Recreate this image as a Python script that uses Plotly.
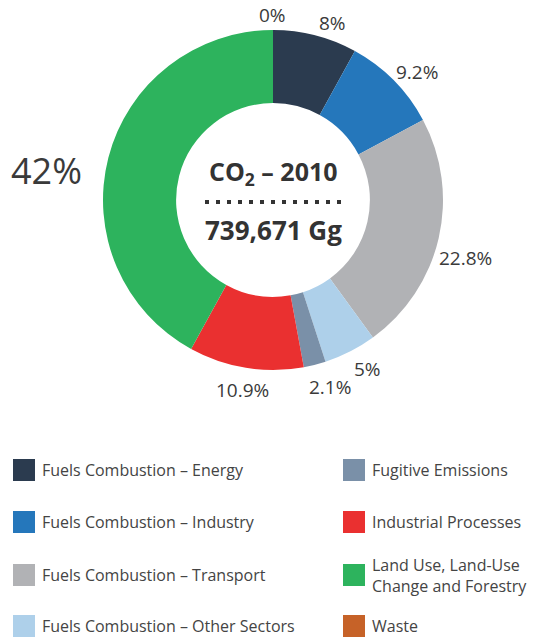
import math
import plotly.graph_objects as go

# sectors in clockwise order from 12 o'clock
sectors = [
    "Fuels Combustion – Energy",
    "Fuels Combustion – Industry",
    "Fuels Combustion – Transport",
    "Fuels Combustion – Other Sectors",
    "Fugitive Emissions",
    "Industrial Processes",
    "Land Use, Land-Use<br>Change and Forestry",
    "Waste",
]
shares = [8, 9.2, 22.8, 5, 2.1, 10.9, 42, 0]
labels = ["8%", "9.2%", "22.8%", "5%", "2.1%", "10.9%", "42%", "0%"]
colors = ["#2b3b4f", "#2577bb", "#b1b2b5", "#aed0ea",
          "#7a90a8", "#ea3030", "#2db35d", "#c66228"]

# legend layout: two columns of four
legend_cols = [[0, 1, 2, 3], [4, 5, 6, 7]]

# label placement tweaks (style only): angle nudge in degrees, distance from centre
label_nudge = [4, 3, 3.7, -2.3, -2.8, 0, -7, 0]
label_dist = [187, 193, 201, 194, 196, 192, 228, 185]

# page body has an 8px margin, so the figure is a bit smaller than the window
OFF = 8
W, H = 553 - OFF, 637 - OFF
cx, cy, R = 273, 200, 170


def px(x, y):
    # window pixel -> paper coords
    return (x - OFF) / W, 1 - (y - OFF) / H


fig = go.Figure(go.Pie(
    values=shares,
    labels=sectors,
    marker=dict(colors=colors, line=dict(width=0)),
    hole=0.57,
    sort=False,
    direction="clockwise",
    rotation=0,
    textinfo="none",
    hoverinfo="label+percent",
    showlegend=False,
    domain=dict(x=[px(cx - R, 0)[0], px(cx + R, 0)[0]],
                y=[px(0, cy + R)[1], px(0, cy - R)[1]]),
))

annotations = []
# percentage labels around the ring
cum = 0
for val, lab, nudge, r in zip(shares, labels, label_nudge, label_dist):
    mid = (cum + val / 2) / sum(shares) * 360 + nudge
    cum += val
    big = val > 30
    a = math.radians(mid)
    x, y = px(cx + r * math.sin(a), cy - r * math.cos(a))
    annotations.append(dict(
        x=x, y=y, xref="paper", yref="paper", text=lab, showarrow=False,
        xanchor="center", yanchor="middle",
        font=dict(family="Open Sans", size=36 if big else 19, color="#3a3a3a"),
    ))

# center title
annotations.append(dict(
    x=px(cx, 0)[0], y=px(0, 152)[1], xref="paper", yref="paper",
    text="<b>CO<sub>2</sub> – 2010</b>", showarrow=False,
    font=dict(family="Open Sans", size=25, color="#333333"),
))
annotations.append(dict(
    x=px(cx, 0)[0], y=px(0, 230)[1], xref="paper", yref="paper",
    text="<b>739,671 Gg</b>", showarrow=False,
    font=dict(family="Open Sans", size=26, color="#333333"),
))

shapes = [dict(
    type="line", xref="paper", yref="paper",
    x0=px(205, 0)[0], x1=px(341, 0)[0], y0=px(0, 202)[1], y1=px(0, 202)[1],
    line=dict(color="#333333", width=4, dash="4px,7px"),
)]

# legend
row_y = [470, 522, 575, 626]
col_x = [13, 343]
sq = 22
for c, idxs in enumerate(legend_cols):
    for r, i in enumerate(idxs):
        x0 = col_x[c]
        yc = row_y[r]
        shapes.append(dict(
            type="rect", xref="paper", yref="paper",
            x0=px(x0, 0)[0], x1=px(x0 + sq, 0)[0],
            y0=px(0, yc + sq / 2)[1], y1=px(0, yc - sq / 2)[1],
            fillcolor=colors[i], line=dict(width=0),
        ))
        tx, ty = px(x0 + sq + 5, yc)
        annotations.append(dict(
            x=tx, y=ty, xref="paper", yref="paper", text=sectors[i],
            showarrow=False, xanchor="left", yanchor="middle", align="left",
            font=dict(family="Open Sans", size=16, color="#444444"),
        ))

fig.update_layout(
    width=W, height=H,
    margin=dict(l=0, r=0, t=0, b=0),
    paper_bgcolor="white",
    plot_bgcolor="white",
    annotations=annotations,
    shapes=shapes,
)

fig.write_html("out.html")
